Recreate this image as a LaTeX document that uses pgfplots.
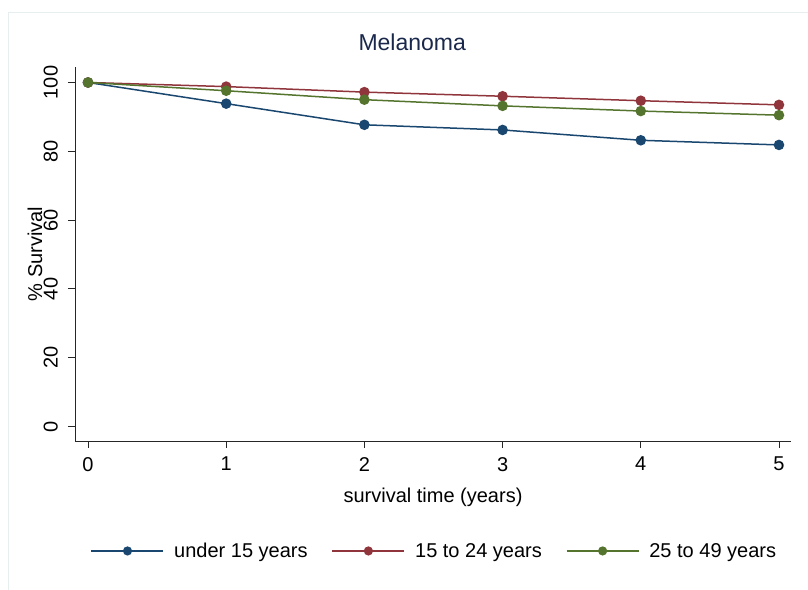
\documentclass[border=0pt]{standalone}
\usepackage{fontspec}
\setmainfont{Liberation Sans}
\usepackage{pgfplots}
\pgfplotsset{compat=1.18}
\definecolor{snavy}{RGB}{26,71,111}
\definecolor{smaroon}{RGB}{144,53,59}
\definecolor{sgreen}{RGB}{85,117,47}
\definecolor{titlecol}{RGB}{26,40,75}
\definecolor{framecol}{RGB}{230,238,240}
\begin{document}
\begin{tikzpicture}
\useasboundingbox (0bp,0bp) rectangle (808bp,590bp);
\draw[color=framecol, line width=1bp] (8bp,-2bp) -- (8bp,577bp) -- (810bp,577bp);
\begin{axis}[
  at={(75bp,149bp)}, anchor=south west,
  scale only axis, width=716bp, height=374bp,
  xmin=-0.094, xmax=5.087, ymin=-4.2, ymax=104.5,
  axis x line*=bottom, axis y line*=left,
  axis line style={-, line width=0.9bp, color=black!85},
  tick align=outside, major tick length=7bp,
  tick style={black!85, line width=0.9bp},
  xtick={0,1,2,3,4,5}, ytick={0,20,40,60,80,100},
  /pgf/number format/assume math mode=true,
  ticklabel style={font=\fontsize{20bp}{24bp}\selectfont},
  yticklabel style={rotate=90, anchor=south, inner sep=0pt, yshift=10bp},
  xticklabel style={inner sep=0pt, yshift=-9bp},
  xlabel={survival time (years)},
  ylabel={\% Survival},
  label style={font=\fontsize{20bp}{24bp}\selectfont},
  xlabel style={at={(axis description cs:0.5,-0.150)}, anchor=center},
  ylabel style={at={(axis description cs:-0.056,0.5)}, anchor=center},
  title={Melanoma},
  title style={at={(axis description cs:0.471,1.051)}, anchor=center,
    font=\fontsize{23bp}{28bp}\selectfont, color=titlecol},
  legend columns=3,
  legend style={at={(axis description cs:0.502,-0.294)}, anchor=center,
    draw=none, fill=none, font=\fontsize{20bp}{24bp}\selectfont,
    /tikz/every odd column/.append style={column sep=8bp},
    /tikz/every even column/.append style={column sep=22bp}},
  legend image code/.code={
    \draw[mark repeat=2, mark phase=2, #1, mark size=3.8bp] plot coordinates {(0bp,0bp) (36bp,0bp) (72bp,0bp)};
  },
]
\addplot[color=snavy, line width=1.5bp, mark=*, mark size=4.5bp] coordinates {
  (0,100) (1,93.85) (2,87.7) (3,86.2) (4,83.2) (5,81.85)};
\addlegendentry{under 15 years}
\addplot[color=smaroon, line width=1.5bp, mark=*, mark size=4.5bp] coordinates {
  (0,100) (1,98.8) (2,97.2) (3,96.0) (4,94.7) (5,93.5)};
\addlegendentry{15 to 24 years}
\addplot[color=sgreen, line width=1.5bp, mark=*, mark size=4.5bp] coordinates {
  (0,100) (1,97.6) (2,95.0) (3,93.2) (4,91.7) (5,90.5)};
\addlegendentry{25 to 49 years}
\end{axis}
\end{tikzpicture}
\end{document}
